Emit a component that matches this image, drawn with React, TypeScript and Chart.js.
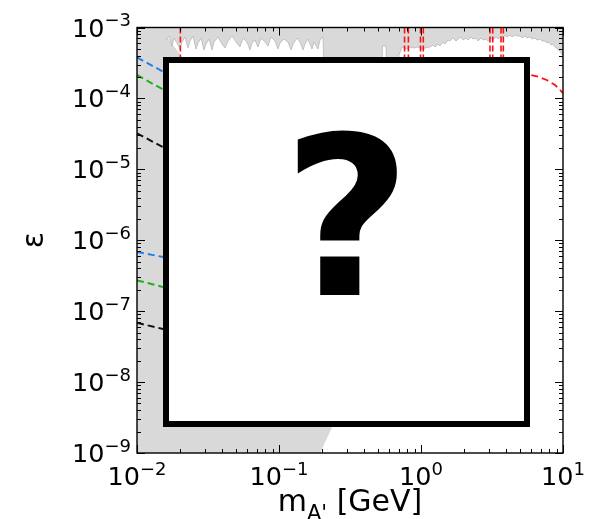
import React, { useEffect, useRef } from 'react';
import { Chart, registerables } from 'chart.js';

Chart.register(...registerables);

// Axis ranges (dark photon mass in GeV, kinetic mixing epsilon)
const massRange = [1e-2, 1e1];
const epsRange = [1e-9, 1e-3];
const massDecades = [-2, -1, 0, 1];
const epsDecades = [-9, -8, -7, -6, -5, -4, -3];

// Dashed sensitivity lines at low mass
const lineMass = [0.01, 0.015, 0.02];
const blueUpper = [3.78e-4, 2.43e-4, 1.78e-4];
const greenUpper = [2.14e-4, 1.36e-4, 9.9e-5];
const blackUpper = [3.22e-5, 2.09e-5, 1.54e-5];
const blueLower = [6.82e-7, 5.85e-7, 5.27e-7];
const greenLower = [2.72e-7, 2.21e-7, 1.98e-7];
const blackLower = [6.85e-8, 5.65e-8, 5.0e-8];

// Upper exclusion band (lower edge), filled up to the top of the plot
const bandMass = [
  0.016, 0.0168, 0.01764, 0.01823, 0.01913, 0.02009, 0.02075, 0.02178, 0.02286, 0.02361,
  0.0248, 0.02603, 0.02689, 0.02823, 0.02963, 0.03061, 0.03214, 0.03375, 0.03486, 0.03719,
  0.03968, 0.04167, 0.04374, 0.04667, 0.0498, 0.05313, 0.05579, 0.05952, 0.06249, 0.06455,
  0.06776, 0.07114, 0.07467, 0.07968, 0.08365, 0.08784, 0.09371, 0.0984, 0.1016, 0.1084,
  0.1157, 0.1215, 0.1255, 0.1339, 0.1406, 0.1476, 0.1524, 0.16, 0.1708, 0.1764,
  0.1882, 0.1944, 0.2041, 0.2091, 0.527, 0.5357, 0.5669, 0.5763, 0.656, 0.6998,
  0.7346, 0.7843, 0.8366, 0.8926, 0.9526, 1.016, 1.067, 1.157, 1.215, 1.255,
  1.317, 1.361, 1.428, 1.476, 1.549, 1.6, 1.68, 1.764, 1.823, 1.913,
  1.976, 2.074, 2.143, 2.25, 2.324, 2.439, 2.52, 2.645, 2.733, 2.87,
  2.963, 3.112, 3.214, 3.375, 3.486, 3.66, 3.78, 3.904, 4.034, 4.235,
  4.374, 4.592, 4.745, 4.981, 5.145, 5.4, 5.579, 5.856, 6.049, 6.35,
  6.56, 6.887, 7.114, 7.467, 7.714, 7.968, 8.232, 8.503, 8.784, 9.073,
  9.222, 9.526, 9.681, 9.84, 10.0,
];
const bandEps = [
  6.66e-4, 7.59e-4, 5.48e-4, 7.11e-4, 6.04e-4, 4.97e-4, 6.24e-4, 7.35e-4, 5.14e-4, 6.45e-4,
  7.59e-4, 4.97e-4, 6.04e-4, 7.11e-4, 4.82e-4, 5.85e-4, 6.88e-4, 4.82e-4, 6.24e-4, 7.35e-4,
  5.85e-4, 5.14e-4, 6.45e-4, 7.59e-4, 6.24e-4, 5.31e-4, 7.11e-4, 6.24e-4, 4.82e-4, 6.04e-4,
  6.66e-4, 5.31e-4, 7.11e-4, 6.24e-4, 5.48e-4, 7.35e-4, 6.45e-4, 4.97e-4, 6.04e-4, 6.88e-4,
  6.24e-4, 4.82e-4, 5.85e-4, 7.11e-4, 6.24e-4, 4.82e-4, 5.85e-4, 6.88e-4, 4.97e-4, 6.24e-4,
  4.97e-4, 6.66e-4, 7.35e-4, 1.5e-4, 1.5e-4, 5.48e-4, 5.48e-4, 1.5e-4, 1.5e-4, 4.09e-4,
  5.31e-4, 4.97e-4, 5.31e-4, 5.14e-4, 5.31e-4, 4.97e-4, 5.14e-4, 5.31e-4, 5.66e-4, 5.31e-4,
  5.85e-4, 5.48e-4, 6.24e-4, 5.85e-4, 6.66e-4, 6.45e-4, 7.11e-4, 6.45e-4, 6.88e-4, 7.35e-4,
  6.66e-4, 7.11e-4, 6.66e-4, 7.35e-4, 6.88e-4, 7.11e-4, 6.45e-4, 7.11e-4, 6.66e-4, 6.88e-4,
  6.45e-4, 7.11e-4, 6.66e-4, 7.35e-4, 6.88e-4, 7.59e-4, 7.11e-4, 7.84e-4, 7.35e-4, 7.84e-4,
  7.35e-4, 7.84e-4, 7.59e-4, 7.59e-4, 7.11e-4, 7.59e-4, 7.11e-4, 7.35e-4, 6.88e-4, 7.11e-4,
  6.66e-4, 6.88e-4, 6.45e-4, 6.45e-4, 6.04e-4, 6.24e-4, 5.66e-4, 5.85e-4, 5.31e-4, 5.14e-4,
  4.82e-4, 4.66e-4, 4.37e-4, 4.23e-4, 3.96e-4,
];

// Beam-dump exclusion outline (closed polygon)
const dumpMass = [0.01, 0.01627, 0.01627, 0.02075, 0.05, 0.1, 0.2, 0.3, 0.236, 0.195, 0.01];
const dumpEps = [1e-3, 1e-3, 7.35e-4, 3.84e-4, 3.5e-5, 3e-6, 2e-7, 2e-8, 2.3e-9, 1e-9, 1e-9];

// High-mass contour and narrow resonance contours
const arcMass = [5.0, 5.86, 6.7, 7.67, 8.79, 9.8, 10.0];
const arcEps = [2.18e-4, 2.14e-4, 2.02e-4, 1.82e-4, 1.55e-4, 1.24e-4, 1.19e-4];
const resonanceMass = [0.0202, 0.766, 0.815, 0.992, 1.038, 3.06, 3.2, 3.66, 3.8];
const resonanceEps = [1e-3, 1e-5];

const FONT = '"DejaVu Sans", sans-serif';
const GRAY = '#d9d9d9';
const TICK_PX = 25.5;
const SUP_PX = 18;
const LABEL_PX = 30;

const pts = (xs: number[], ys: number[]) => xs.map((x, i) => ({ x, y: ys[i] }));

function dashed(data: { x: number; y: number }[], color: string, width = 2, dash = [7, 4]) {
  return {
    data,
    borderColor: color,
    borderWidth: width,
    borderDash: dash,
    pointRadius: 0,
    fill: false,
    order: 1,
  };
}

function drawPower(ctx: CanvasRenderingContext2D, exp: number, x: number, y: number, align: 'center' | 'right') {
  const base = '10';
  const sup = (exp < 0 ? '\u2212' : '') + Math.abs(exp);
  ctx.font = `${TICK_PX}px ${FONT}`;
  const wb = ctx.measureText(base).width;
  ctx.font = `${SUP_PX}px ${FONT}`;
  const ws = ctx.measureText(sup).width;
  const total = wb + ws;
  const left = align === 'center' ? x - total / 2 : x - total;
  ctx.textAlign = 'left';
  ctx.textBaseline = 'alphabetic';
  ctx.font = `${TICK_PX}px ${FONT}`;
  ctx.fillText(base, left, y);
  ctx.font = `${SUP_PX}px ${FONT}`;
  ctx.fillText(sup, left + wb, y - 10.5);
}

const axesPlugin = {
  id: 'axesDecor',
  afterDatasetsDraw(chart: any) {
    const { ctx, chartArea: a, scales } = chart;
    const xs = scales.x;
    const ys = scales.y;
    ctx.save();
    ctx.strokeStyle = '#000';
    ctx.fillStyle = '#000';
    ctx.lineWidth = 1;
    ctx.setLineDash([]);

    const seg = (x1: number, y1: number, x2: number, y2: number) => {
      ctx.beginPath();
      ctx.moveTo(x1, y1);
      ctx.lineTo(x2, y2);
      ctx.stroke();
    };

    // inward ticks on all four sides
    massDecades.forEach((e) => {
      for (let m = 1; m <= 9; m++) {
        const v = m * Math.pow(10, e);
        if (v > massRange[1] * 1.0001) break;
        const px = Math.round(xs.getPixelForValue(v)) + 0.5;
        const len = m === 1 ? 8 : 4;
        seg(px, a.bottom, px, a.bottom - len);
        seg(px, a.top, px, a.top + len);
      }
    });
    epsDecades.forEach((e) => {
      for (let m = 1; m <= 9; m++) {
        const v = m * Math.pow(10, e);
        if (v > epsRange[1] * 1.0001) break;
        const py = Math.round(ys.getPixelForValue(v)) + 0.5;
        const len = m === 1 ? 8 : 4;
        seg(a.left, py, a.left + len, py);
        seg(a.right, py, a.right - len, py);
      }
    });

    // frame
    ctx.lineWidth = 1.4;
    ctx.strokeRect(a.left, a.top, a.right - a.left, a.bottom - a.top);

    // tick labels
    massDecades.forEach((e) => drawPower(ctx, e, xs.getPixelForValue(Math.pow(10, e)), a.bottom + 32, 'center'));
    epsDecades.forEach((e) => drawPower(ctx, e, a.left - 6, ys.getPixelForValue(Math.pow(10, e)) + 9, 'right'));

    // x label: m_{A'} [GeV]
    const cx = (a.left + a.right) / 2;
    const baseY = a.bottom + 58;
    ctx.font = `${LABEL_PX}px ${FONT}`;
    const wm = ctx.measureText('m').width;
    const wsp = ctx.measureText(' ').width;
    const wg = ctx.measureText('[GeV]').width;
    ctx.font = `21px ${FONT}`;
    const wa = ctx.measureText("A'").width;
    const total = wm + wa + wsp + wg;
    let left = cx - total / 2;
    ctx.textAlign = 'left';
    ctx.font = `${LABEL_PX}px ${FONT}`;
    ctx.fillText('m', left, baseY);
    left += wm;
    ctx.font = `21px ${FONT}`;
    ctx.fillText("A'", left, baseY + 9);
    left += wa + wsp;
    ctx.font = `${LABEL_PX}px ${FONT}`;
    ctx.fillText('[GeV]', left, baseY);

    // y label: epsilon
    ctx.save();
    ctx.translate(43, (a.top + a.bottom) / 2);
    ctx.rotate(-Math.PI / 2);
    ctx.textAlign = 'center';
    ctx.font = `${LABEL_PX}px ${FONT}`;
    ctx.fillText('\u03b5', 0, 0);
    ctx.restore();

    // placeholder panel over the plot
    ctx.fillStyle = '#fff';
    ctx.fillRect(163, 57, 367, 370);
    ctx.lineWidth = 6;
    ctx.strokeStyle = '#000';
    ctx.strokeRect(166, 60, 361, 364);
    ctx.fillStyle = '#000';
    ctx.textAlign = 'center';
    ctx.font = `bold 222px ${FONT}`;
    ctx.fillText('?', 347, 295);

    ctx.restore();
  },
};

export default function App() {
  const ref = useRef<HTMLCanvasElement>(null);

  useEffect(() => {
    const datasets: any[] = [
      dashed(pts(lineMass, blueUpper), '#1f80e8'),
      dashed(pts(lineMass, greenUpper), '#1eb01e'),
      dashed(pts(lineMass, blackUpper), '#111111'),
      dashed(pts(lineMass, blueLower), '#1f80e8'),
      dashed(pts(lineMass, greenLower), '#1eb01e'),
      dashed(pts(lineMass, blackLower), '#111111'),
      dashed(pts(arcMass, arcEps), '#ff1010', 1.8, [7, 4]),
      ...resonanceMass.map((m) =>
        dashed(pts([m, m], resonanceEps), '#ff1010', 1.6, [6, 3])
      ),
      {
        data: pts(bandMass, bandEps),
        borderColor: '#b8b8b8',
        borderWidth: 0.8,
        backgroundColor: GRAY,
        fill: 'end',
        pointRadius: 0,
        order: 2,
      },
      {
        data: pts(dumpMass, dumpEps),
        borderWidth: 0,
        borderColor: GRAY,
        backgroundColor: GRAY,
        fill: 'shape',
        pointRadius: 0,
        order: 3,
      },
    ];

    const chart = new Chart(ref.current as HTMLCanvasElement, {
      type: 'line',
      data: { datasets },
      options: {
        animation: false,
        responsive: false,
        maintainAspectRatio: false,
        layout: { padding: { left: 137, right: 52, top: 27.5, bottom: 66 } },
        plugins: { legend: { display: false }, tooltip: { enabled: false } },
        elements: { line: { tension: 0 }, point: { radius: 0 } },
        scales: {
          x: { type: 'logarithmic', min: massRange[0], max: massRange[1], display: false },
          y: { type: 'logarithmic', min: epsRange[0], max: epsRange[1], display: false },
        },
      },
      plugins: [axesPlugin],
    } as any);

    return () => chart.destroy();
  }, []);

  return (
    <div style={{ position: 'fixed', left: 0, top: 0, width: 615, height: 519, background: '#fff' }}>
      <canvas ref={ref} width={615} height={519} style={{ display: 'block', width: 615, height: 519 }} />
    </div>
  );
}
